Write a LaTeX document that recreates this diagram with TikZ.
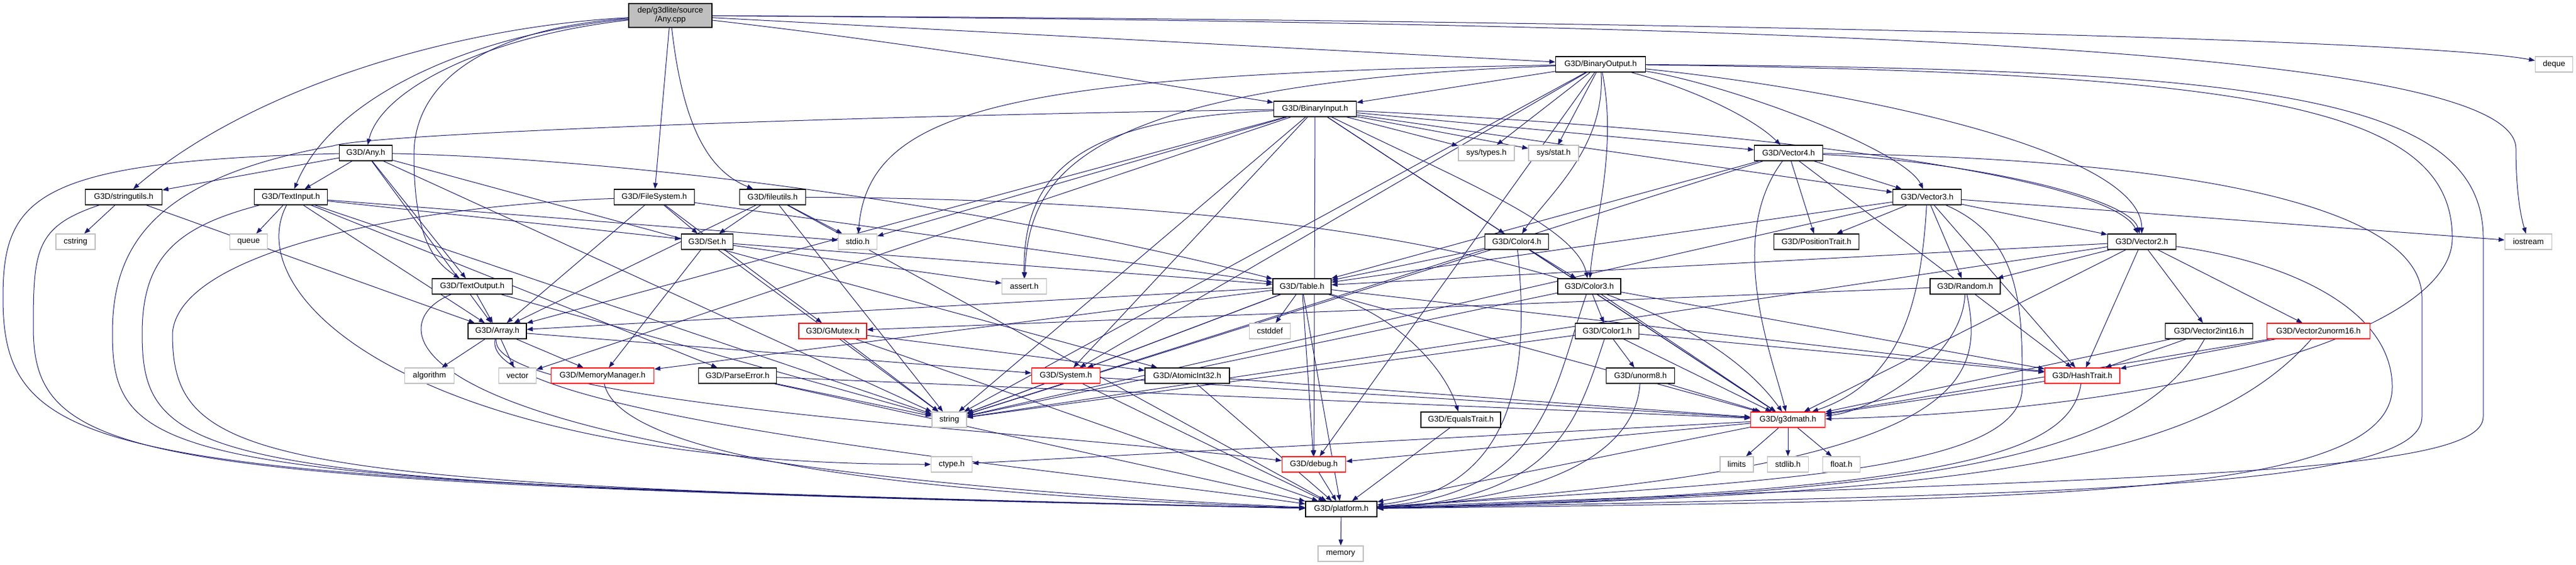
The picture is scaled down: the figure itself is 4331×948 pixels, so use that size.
\documentclass[tikz,border=0pt]{standalone}
\usepackage{fontspec}
\setmainfont{Liberation Sans}
\usetikzlibrary{arrows.meta}
\pgfdeclarelayer{bg}
\pgfsetlayers{bg,main}
\definecolor{edgeblue}{HTML}{191970}
\definecolor{extgray}{HTML}{BFBFBF}
\definecolor{cutred}{HTML}{FF0000}

\begin{document}
\begin{tikzpicture}[x=1pt,y=-1pt,
    hdr/.style={draw=black},
    ext/.style={draw=extgray},
    cut/.style={draw=cutred},
    dep/.style={draw=edgeblue, line width=1pt, -{Triangle[length=10pt,width=7.5pt]}}]
                \tikzstyle{every node}+=[inner sep=0pt, minimum height=26pt, fill=white, line width=1.3pt, font=\fontsize{13.5}{15}\selectfont]
                \useasboundingbox (0,0) rectangle (4331,948);
                \node[hdr, fill=extgray, minimum width=140pt, minimum height=40pt, align=center] (root) at (1127,26) {dep/g3dlite/source\\/Any.cpp};
                \node[hdr, minimum width=151pt] (bout) at (2691,108) {G3D/BinaryOutput.h};
                \node[ext, minimum width=63pt] (deque) at (4294,108) {deque};
                \node[hdr, minimum width=139pt] (bin) at (2211,183) {G3D/BinaryInput.h};
                \node[hdr, minimum width=89pt] (any) at (615,257) {G3D/Any.h};
                \node[ext, minimum width=94pt] (systypes) at (2499,257) {sys/types.h};
                \node[ext, minimum width=84pt] (sysstat) at (2612,257) {sys/stat.h};
                \node[hdr, minimum width=115pt] (vec4) at (3007,257) {G3D/Vector4.h};
                \node[hdr, minimum width=129pt] (strutil) at (208,331) {G3D/stringutils.h};
                \node[hdr, minimum width=123pt] (tin) at (489,331) {G3D/TextInput.h};
                \node[hdr, minimum width=135pt] (fsys) at (1100,331) {G3D/FileSystem.h};
                \node[hdr, minimum width=111pt] (futil) at (1299,331) {G3D/fileutils.h};
                \node[hdr, minimum width=115pt] (vec3) at (3240,331) {G3D/Vector3.h};
                \node[ext, minimum width=66pt] (cstring) at (127,406) {cstring};
                \node[ext, minimum width=63pt] (queue) at (418,406) {queue};
                \node[hdr, minimum width=87pt] (set) at (1189,406) {G3D/Set.h};
                \node[ext, minimum width=65pt] (stdio) at (1442,406) {stdio.h};
                \node[hdr, minimum width=107pt] (color4) at (2550,406) {G3D/Color4.h};
                \node[hdr, minimum width=143pt] (postrait) at (3054,406) {G3D/PositionTrait.h};
                \node[hdr, minimum width=115pt] (vec2) at (3601,406) {G3D/Vector2.h};
                \node[ext, minimum width=79pt] (iostream) at (4251,406) {iostream};
                \node[hdr, minimum width=135pt] (tout) at (794,481) {G3D/TextOutput.h};
                \node[ext, minimum width=75pt] (assert) at (1722,481) {assert.h};
                \node[hdr, minimum width=98pt] (table) at (2189,481) {G3D/Table.h};
                \node[hdr, minimum width=106pt] (color3) at (2672,481) {G3D/Color3.h};
                \node[hdr, minimum width=118pt] (random) at (3304,481) {G3D/Random.h};
                \node[hdr, minimum width=98pt] (array) at (836,556) {G3D/Array.h};
                \node[cut, minimum width=114pt] (gmutex) at (1400,556) {G3D/GMutex.h};
                \node[ext, minimum width=69pt] (cstddef) at (2135,556) {cstddef};
                \node[hdr, minimum width=107pt] (color1) at (2702,556) {G3D/Color1.h};
                \node[hdr, minimum width=147pt] (v2i16) at (3714,556) {G3D/Vector2int16.h};
                \node[cut, minimum width=173pt] (v2u16) at (3898,556) {G3D/Vector2unorm16.h};
                \node[ext, minimum width=83pt] (algorithm) at (722,631) {algorithm};
                \node[ext, minimum width=63pt] (vector) at (870,631) {vector};
                \node[cut, minimum width=173pt] (memmgr) at (1013,631) {G3D/MemoryManager.h};
                \node[hdr, minimum width=131pt] (parseerr) at (1240,631) {G3D/ParseError.h};
                \node[cut, minimum width=115pt] (system) at (1792,631) {G3D/System.h};
                \node[hdr, minimum width=142pt] (atomic) at (1996,631) {G3D/AtomicInt32.h};
                \node[hdr, minimum width=115pt] (unorm8) at (2758,631) {G3D/unorm8.h};
                \node[cut, minimum width=126pt] (hashtrait) at (3501,631) {G3D/HashTrait.h};
                \node[ext, minimum width=58pt] (string) at (1596,705) {string};
                \node[hdr, minimum width=134pt] (equals) at (2456,705) {G3D/EqualsTrait.h};
                \node[cut, minimum width=125pt] (g3dmath) at (3006,705) {G3D/g3dmath.h};
                \node[ext, minimum width=69pt] (ctype) at (1600,780) {ctype.h};
                \node[cut, minimum width=107pt] (debug) at (2209,780) {G3D/debug.h};
                \node[ext, minimum width=56pt] (limits) at (2920,780) {limits};
                \node[ext, minimum width=69pt] (stdlib) at (3006,780) {stdlib.h};
                \node[ext, minimum width=63pt] (float) at (3096,780) {float.h};
                \node[hdr, minimum width=120pt] (platform) at (2255,855) {G3D/platform.h};
                \node[ext, minimum width=76pt] (memory) at (2254,930) {memory};
                \begin{pgfonlayer}{bg}
                \draw[dep] (root) .. controls (760,45) and (420,150) .. (strutil);
                \draw[dep] (root) .. controls (800,55) and (560,160) .. (tin);
                \draw[dep] (root) .. controls (820,60) and (640,150) .. (any);
                \draw[dep] (root) .. controls (850,45) and (696,120) .. (696,260) .. controls (696,400) and (730,440) .. (tout);
                \draw[dep] (root) -- (fsys);
                \draw[dep] (root) .. controls (1150,230) and (1200,290) .. (futil);
                \draw[dep] (root) -- (bout);
                \draw[dep] (root) .. controls (1600,80) and (2000,150) .. (bin);
                \draw[dep] (root) .. controls (3000,35) and (4100,70) .. (deque);
                \draw[dep] (root) .. controls (3200,40) and (4230,90) .. (4230,250) .. controls (4230,330) and (4240,370) .. (iostream);
                \draw[dep] (any) -- (strutil);
                \draw[dep] (any) -- (tin);
                \draw[dep] (any) -- (tout);
                \draw[dep] (any) -- (array);
                \draw[dep] (any) .. controls (1000,265) and (1600,330) .. (table);
                \draw[dep] (any) -- (atomic);
                \draw[dep] (any) -- (string);
                \draw[dep] (any) .. controls (60,270) and (5,330) .. (5,500) .. controls (5,790) and (200,805) .. (platform);
                \draw[dep] (strutil) -- (cstring);
                \draw[dep] (strutil) -- (array);
                \draw[dep] (strutil) .. controls (60,380) and (56,420) .. (56,550) .. controls (56,790) and (250,810) .. (platform);
                \draw[dep] (tin) -- (queue);
                \draw[dep] (tin) -- (array);
                \draw[dep] (tin) -- (set);
                \draw[dep] (tin) -- (stdio);
                \draw[dep] (tin) -- (parseerr);
                \draw[dep] (tin) -- (string);
                \draw[dep] (tin) .. controls (400,500) and (700,780) .. (ctype);
                \draw[dep] (tin) .. controls (300,380) and (239,430) .. (239,560) .. controls (239,790) and (350,815) .. (platform);
                \draw[dep] (tout) -- (array);
                \draw[dep] (tout) -- (string);
                \draw[dep] (tout) .. controls (640,540) and (600,780) .. (platform);
                \draw[dep] (fsys) -- (set);
                \draw[dep] (fsys) -- (array);
                \draw[dep] (fsys) -- (gmutex);
                \draw[dep] (fsys) -- (table);
                \draw[dep] (fsys) .. controls (700,345) and (300,420) .. (290,560) .. controls (290,790) and (450,815) .. (platform);
                \draw[dep] (futil) -- (set);
                \draw[dep] (futil) -- (stdio);
                \draw[dep] (futil) -- (array);
                \draw[dep] (futil) .. controls (2100,335) and (2800,420) .. (g3dmath);
                \draw[dep] (futil) -- (string);
                \draw[dep] (futil) -- (platform);
                \draw[dep] (bin) -- (systypes);
                \draw[dep] (bin) -- (sysstat);
                \draw[dep] (bin) -- (color4);
                \draw[dep] (bin) .. controls (2450,300) and (2650,380) .. (color3);
                \draw[dep] (bin) -- (vec4);
                \draw[dep] (bin) -- (vec3);
                \draw[dep] (bin) .. controls (3000,220) and (3550,300) .. (vec2);
                \draw[dep] (bin) -- (stdio);
                \draw[dep] (bin) .. controls (1800,200) and (1720,300) .. (assert);
                \draw[dep] (bin) -- (string);
                \draw[dep] (bin) -- (array);
                \draw[dep] (bin) -- (vector);
                \draw[dep] (bin) -- (debug);
                \draw[dep] (bin) -- (system);
                \draw[dep] (bin) -- (g3dmath);
                \draw[dep] (bin) .. controls (1400,195) and (620,225) .. (560,245) .. controls (250,300) and (189,420) .. (189,560) .. controls (189,790) and (300,810) .. (platform);
                \draw[dep] (bout) -- (bin);
                \draw[dep] (bout) -- (systypes);
                \draw[dep] (bout) -- (sysstat);
                \draw[dep] (bout) .. controls (2700,250) and (2600,330) .. (color4);
                \draw[dep] (bout) .. controls (2720,250) and (2680,380) .. (color3);
                \draw[dep] (bout) .. controls (2850,150) and (2950,200) .. (vec4);
                \draw[dep] (bout) .. controls (2900,140) and (3200,250) .. (vec3);
                \draw[dep] (bout) .. controls (3100,150) and (3600,250) .. (vec2);
                \draw[dep] (bout) .. controls (1700,125) and (1460,180) .. (stdio);
                \draw[dep] (bout) .. controls (1800,140) and (1730,300) .. (assert);
                \draw[dep] (bout) -- (string);
                \draw[dep] (bout) -- (system);
                \draw[dep] (bout) -- (debug);
                \draw[dep] (bout) .. controls (3800,122) and (4123,180) .. (4123,400) .. controls (4123,560) and (3650,690) .. (g3dmath);
                \draw[dep] (bout) .. controls (3800,115) and (4175,160) .. (4175,400) -- (4175,700) .. controls (4175,800) and (3600,800) .. (platform);
                \draw[dep] (vec4) -- (vec3);
                \draw[dep] (vec4) -- (postrait);
                \draw[dep] (vec4) .. controls (3300,270) and (3580,330) .. (vec2);
                \draw[dep] (vec4) -- (hashtrait);
                \draw[dep] (vec4) .. controls (2900,400) and (2980,600) .. (g3dmath);
                \draw[dep] (vec4) -- (string);
                \draw[dep] (vec4) -- (table);
                \draw[dep] (vec4) .. controls (3600,265) and (4072,330) .. (4072,500) -- (4072,700) .. controls (4072,820) and (3500,830) .. (platform);
                \draw[dep] (vec3) -- (postrait);
                \draw[dep] (vec3) -- (random);
                \draw[dep] (vec3) -- (vec2);
                \draw[dep] (vec3) -- (hashtrait);
                \draw[dep] (vec3) .. controls (3230,500) and (3200,640) .. (g3dmath);
                \draw[dep] (vec3) -- (iostream);
                \draw[dep] (vec3) -- (string);
                \draw[dep] (vec3) -- (table);
                \draw[dep] (vec3) .. controls (3400,400) and (3400,520) .. (3400,650) .. controls (3400,790) and (3000,810) .. (platform);
                \draw[dep] (vec2) -- (v2i16);
                \draw[dep] (vec2) -- (v2u16);
                \draw[dep] (vec2) -- (hashtrait);
                \draw[dep] (vec2) -- (random);
                \draw[dep] (vec2) -- (g3dmath);
                \draw[dep] (vec2) -- (string);
                \draw[dep] (vec2) -- (table);
                \draw[dep] (vec2) .. controls (3850,440) and (4022,520) .. (4022,650) .. controls (4022,840) and (3400,840) .. (platform);
                \draw[dep] (v2i16) -- (hashtrait);
                \draw[dep] (v2i16) -- (g3dmath);
                \draw[dep] (v2i16) .. controls (3600,760) and (3300,830) .. (platform);
                \draw[dep] (v2u16) -- (hashtrait);
                \draw[dep] (v2u16) -- (g3dmath);
                \draw[dep] (v2u16) .. controls (3700,780) and (3300,830) .. (platform);
                \draw[dep] (hashtrait) -- (g3dmath);
                \draw[dep] (hashtrait) .. controls (3480,760) and (3300,825) .. (platform);
                \draw[dep] (random) -- (gmutex);
                \draw[dep] (random) .. controls (3300,600) and (3150,690) .. (g3dmath);
                \draw[dep] (random) .. controls (3340,650) and (3300,790) .. (platform);
                \draw[dep] (color4) -- (color3);
                \draw[dep] (color4) -- (g3dmath);
                \draw[dep] (color4) .. controls (2570,600) and (2560,820) .. (platform);
                \draw[dep] (color4) -- (string);
                \draw[dep] (color4) -- (table);
                \draw[dep] (color3) -- (color1);
                \draw[dep] (color3) -- (hashtrait);
                \draw[dep] (color3) -- (g3dmath);
                \draw[dep] (color3) .. controls (2612,650) and (2600,830) .. (platform);
                \draw[dep] (color3) -- (string);
                \draw[dep] (color1) -- (unorm8);
                \draw[dep] (color1) -- (hashtrait);
                \draw[dep] (color1) -- (g3dmath);
                \draw[dep] (color1) .. controls (2654,700) and (2620,840) .. (platform);
                \draw[dep] (color1) -- (string);
                \draw[dep] (unorm8) -- (g3dmath);
                \draw[dep] (unorm8) .. controls (2750,760) and (2600,840) .. (platform);
                \draw[dep] (table) -- (cstddef);
                \draw[dep] (table) -- (debug);
                \draw[dep] (table) -- (platform);
                \draw[dep] (table) .. controls (2350,530) and (2430,620) .. (equals);
                \draw[dep] (table) -- (array);
                \draw[dep] (table) -- (system);
                \draw[dep] (table) -- (g3dmath);
                \draw[dep] (table) -- (hashtrait);
                \draw[dep] (table) -- (memmgr);
                \draw[dep] (table) -- (string);
                \draw[dep] (array) -- (algorithm);
                \draw[dep] (array) -- (vector);
                \draw[dep] (array) -- (memmgr);
                \draw[dep] (array) -- (system);
                \draw[dep] (array) .. controls (800,700) and (1800,790) .. (platform);
                \draw[dep] (array) .. controls (820,680) and (1700,720) .. (debug);
                \draw[dep] (set) -- (memmgr);
                \draw[dep] (set) -- (table);
                \draw[dep] (set) -- (assert);
                \draw[dep] (set) -- (string);
                \draw[dep] (gmutex) -- (string);
                \draw[dep] (gmutex) -- (atomic);
                \draw[dep] (gmutex) -- (platform);
                \draw[dep] (system) -- (string);
                \draw[dep] (system) -- (platform);
                \draw[dep] (system) -- (g3dmath);
                \draw[dep] (atomic) -- (platform);
                \draw[dep] (atomic) -- (g3dmath);
                \draw[dep] (memmgr) .. controls (1050,800) and (1800,840) .. (platform);
                \draw[dep] (parseerr) -- (platform);
                \draw[dep] (parseerr) -- (g3dmath);
                \draw[dep] (parseerr) -- (string);
                \draw[dep] (equals) -- (platform);
                \draw[dep] (g3dmath) -- (ctype);
                \draw[dep] (g3dmath) -- (limits);
                \draw[dep] (g3dmath) -- (stdlib);
                \draw[dep] (g3dmath) -- (float);
                \draw[dep] (g3dmath) -- (debug);
                \draw[dep] (g3dmath) -- (platform);
                \draw[dep] (debug) -- (platform);
                \draw[dep] (platform) -- (memory);
                \end{pgfonlayer}
            \end{tikzpicture}
\end{document}
